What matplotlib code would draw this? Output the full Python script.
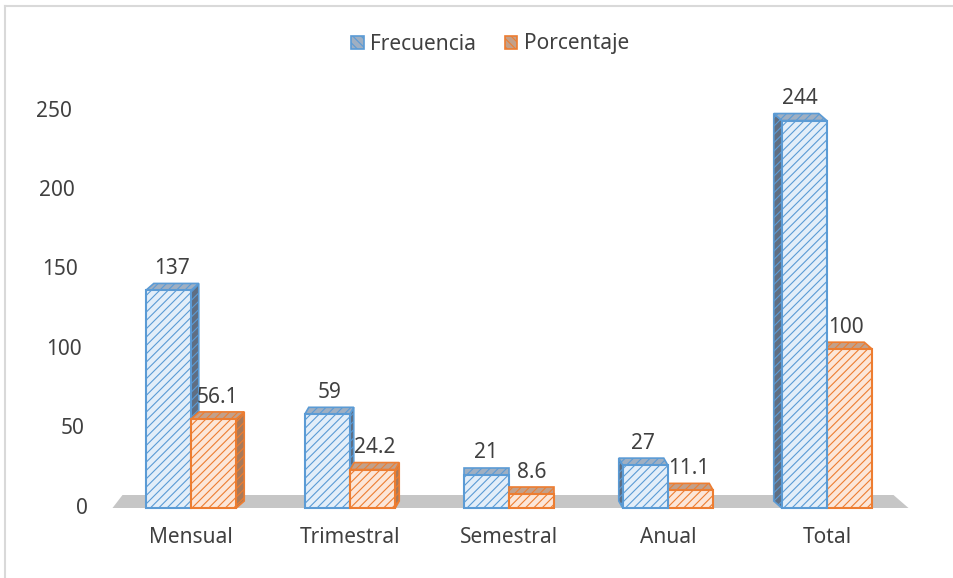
import matplotlib.pyplot as plt
from matplotlib.patches import Polygon, Patch
from matplotlib.lines import Line2D

# Datos
categorias = ['Mensual', 'Trimestral', 'Semestral', 'Anual', 'Total']
frecuencia = [137, 59, 21, 27, 244]
porcentaje = [56.1, 24.2, 8.6, 11.1, 100]
etiq_frec = ['137', '59', '21', '27', '244']
etiq_porc = ['56.1', '24.2', '8.6', '11.1', '100']
yticks = [0, 50, 100, 150, 200, 250]

plt.rcParams['font.family'] = ['Noto Sans', 'DejaVu Sans']
plt.rcParams['hatch.linewidth'] = 0.8
TXT = '#404040'

W, H = 954, 578
fig = plt.figure(figsize=(W / 100, H / 100), dpi=100)
ax = fig.add_axes([111.5 / W, (H - 508) / H, 795 / W, 397 / H])
ax.set_xlim(-0.5, 4.5)
ax.set_ylim(0, 250)
sx = 5 / 795     # unidades x por pixel
sy = 250 / 397   # unidades y por pixel
prof = 7         # profundidad de la tapa (px)
ancho = 45 * sx

# suelo gris
ax.add_patch(Polygon([(-0.5 + 1 * sx, 0), (4.5 + 2 * sx, 0),
                      (4.5 - 13 * sx, 13 * sy), (-0.5 + 11 * sx, 13 * sy)],
                     closed=True, facecolor='#C6C6C6', edgecolor='none',
                     clip_on=False, zorder=1))

series = [
    dict(vals=frecuencia, etiq=etiq_frec, off=-0.143, color='#5B9BD5',
         claro='#E3EEF9', lado='#5F6E82', tapa='#9FAFC2'),
    dict(vals=porcentaje, etiq=etiq_porc, off=0.143, color='#ED7D31',
         claro='#FCE6D8', lado='#A97A5A', tapa='#C2A08A'),
]


def barra_3d(xc, v, dx, s, z):
    x0, x1 = xc - ancho / 2, xc + ancho / 2
    ddx, ddy = dx * sx, prof * sy
    if dx != 0:
        xs = x1 if dx > 0 else x0
        ax.add_patch(Polygon([(xs, 0), (xs, v), (xs + ddx, v + ddy), (xs + ddx, ddy)],
                             facecolor=s['lado'], edgecolor=s['color'], hatch='////',
                             lw=1.2, zorder=z, clip_on=False))
    ax.add_patch(Polygon([(x0, v), (x1, v), (x1 + ddx, v + ddy), (x0 + ddx, v + ddy)],
                         facecolor=s['tapa'], edgecolor=s['color'], hatch='////',
                         lw=1.2, zorder=z + 0.1, clip_on=False))
    ax.bar(xc, v, ancho, facecolor=s['claro'], edgecolor=s['color'], hatch='////',
           lw=1.5, zorder=z + 0.2, clip_on=False)


for i in range(len(categorias)):
    dx = -4 * (i - 2)   # perspectiva: cara lateral segun posicion
    orden = series if dx >= 0 else series[::-1]
    for k, s in enumerate(orden):
        xc = i + s['off']
        v = s['vals'][i]
        barra_3d(xc, v, dx, s, 2 + k)
        ax.annotate(s['etiq'][i], (xc + dx * sx / 2, v + prof * sy),
                    xytext=(0, 3), textcoords='offset points', ha='center',
                    va='bottom', fontsize=15, color=TXT, zorder=10)

# ejes
for sp in ax.spines.values():
    sp.set_visible(False)
ax.set_xticks(range(len(categorias)), categorias)
ax.tick_params(axis='x', length=0, pad=14, labelsize=15, labelcolor=TXT)
ax.set_yticks([])
for t in yticks:
    derecha = 88 - 0.065 * t
    ax.annotate(str(t), (0, t), xycoords=('axes fraction', 'data'),
                xytext=(-(111.5 - derecha) * 0.72, 0), textcoords='offset points',
                ha='right', va='center', fontsize=15, color=TXT)

# leyenda
handles = [Patch(facecolor=s['tapa'], edgecolor=s['color'], hatch='\\\\\\\\', lw=1.2)
           for s in series]
fig.legend(handles, ['Frecuencia', 'Porcentaje'], loc='center',
           bbox_to_anchor=(490 / W, 1 - 44 / H), ncol=2, frameon=False,
           fontsize=15, handlelength=0.6, handleheight=0.6, handletextpad=0.3,
           columnspacing=1.4, labelcolor=TXT)

# borde del grafico
fig.add_artist(Line2D([5 / W, 5 / W], [0, 1 - 6 / H], transform=fig.transFigure,
                      color='#D9D9D9', lw=1.5))
fig.add_artist(Line2D([5 / W, 1], [1 - 6 / H, 1 - 6 / H], transform=fig.transFigure,
                      color='#D9D9D9', lw=1.5))

fig.savefig('out.png', dpi=100, facecolor='white')
